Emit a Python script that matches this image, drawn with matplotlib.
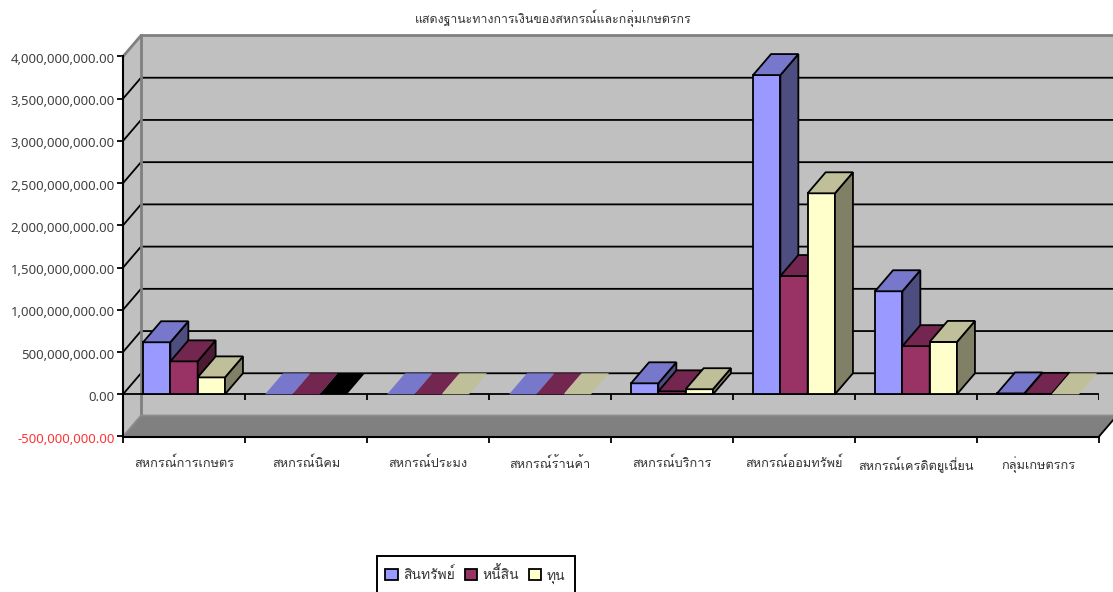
import numpy as np
import matplotlib
matplotlib.use('Agg')
import matplotlib.pyplot as plt
from matplotlib.patches import Patch, Polygon, Rectangle
from matplotlib.transforms import ScaledTranslation

plt.rcParams['font.family'] = ['Loma', 'DejaVu Sans']

title = 'แสดงฐานะทางการเงินของสหกรณ์และกลุ่มเกษตรกร'
categories = ['สหกรณ์การเกษตร', 'สหกรณ์นิคม', 'สหกรณ์ประมง', 'สหกรณ์ร้านค้า',
              'สหกรณ์บริการ', 'สหกรณ์ออมทรัพย์', 'สหกรณ์เครดิตยูเนี่ยน', 'กลุ่มเกษตรกร']
series_names = ['สินทรัพย์', 'หนี้สิน', 'ทุน']
assets = [616e6, 0, 0, 0, 130e6, 3780e6, 1220e6, 10e6]
liabilities = [390e6, 0, 0, 0, 35e6, 1400e6, 570e6, 5e6]
equity = [200e6, 0, 0, 0, 60e6, 2380e6, 620e6, 0]
y_ticks = [-5e8, 0, 5e8, 1e9, 1.5e9, 2e9, 2.5e9, 3e9, 3.5e9, 4e9]

front_colors = ['#9999FF', '#993366', '#FFFFCC']
top_colors = ['#7777CC', '#722650', '#BFBF99']
side_colors = ['#4D4D80', '#4D1A33', '#808066']

W, H = 1113, 592
fig = plt.figure(figsize=(W / 100, H / 100), dpi=100)
ax = fig.add_axes([123 / W, 1 - 436.5 / H, 976 / W, 380 / H])
ax.set_xlim(0, 8)
ax.set_ylim(-5e8, 4e9)

# depth of the fake 3d box, in data units
px_x = 8 / 976
px_y = 4.5e9 / 380
DX = 18 * px_x
DY = 21 * px_y
bar_w = 27.3 * px_x
ymin, ymax = ax.get_ylim()

# walls and floor
ax.add_patch(Polygon([(DX, ymin + DY), (8 + DX, ymin + DY), (8 + DX, ymax + DY), (DX, ymax + DY)],
                     fc='#C0C0C0', ec='none', clip_on=False, zorder=1))
ax.add_patch(Polygon([(0, ymin), (DX, ymin + DY), (DX, ymax + DY), (0, ymax)],
                     fc='#C0C0C0', ec='none', clip_on=False, zorder=1))
ax.add_patch(Polygon([(0, ymin), (8, ymin), (8 + DX, ymin + DY), (DX, ymin + DY)],
                     fc='#808080', ec='none', clip_on=False, zorder=1))

for v in y_ticks[1:-1]:
    ax.plot([0, DX, 8 + DX], [v, v + DY, v + DY], color='black', lw=1.3, clip_on=False, zorder=2)

# grey outline of the box
ax.plot([0, DX, 8 + DX], [ymax, ymax + DY, ymax + DY], color='#808080', lw=2, clip_on=False, zorder=2)
ax.plot([DX, DX], [ymin + DY, ymax + DY], color='#808080', lw=2, clip_on=False, zorder=2)
ax.plot([0, DX, 8 + DX], [ymin, ymin + DY, ymin + DY], color='#8C8C8C', lw=1.3, clip_on=False, zorder=2)
ax.plot([8, 8 + DX], [ymin, ymin + DY], color='black', lw=1.3, clip_on=False, zorder=2)

# zero line with its own ticks
ax.plot([0, 8], [0, 0], color='black', lw=1.3, zorder=3)
ax.vlines(range(1, 9), -6 * px_y, 0, color='black', lw=1.3, zorder=3)

gap = (1 - 3 * bar_w) / 2
z = 4
for i in range(len(categories)):
    for j, vals in enumerate([assets, liabilities, equity]):
        v = vals[i]
        x0 = i + gap + j * bar_w
        x1 = x0 + bar_w
        top = top_colors[j]
        if i == 1 and j == 2:
            top = 'black'
        ec = 'black' if v != 0 else 'none'
        if v != 0:
            ax.bar(x0, v, width=bar_w, align='edge', color=front_colors[j], edgecolor='black', lw=1.3, zorder=z)
            ax.add_patch(Polygon([(x1, 0), (x1 + DX, DY), (x1 + DX, v + DY), (x1, v)],
                                 fc=side_colors[j], ec=ec, lw=1.3, zorder=z, clip_on=False))
        ax.add_patch(Polygon([(x0, v), (x1, v), (x1 + DX, v + DY), (x0 + DX, v + DY)],
                             fc=top, ec=ec, lw=1.3, zorder=z, clip_on=False))
        z += 1

for s in ['top', 'right']:
    ax.spines[s].set_visible(False)
for s in ['left', 'bottom']:
    ax.spines[s].set_linewidth(1.5)
    ax.spines[s].set_zorder(60)

ax.set_yticks(y_ticks)
ax.set_yticklabels(['{:,.2f}'.format(v) for v in y_ticks], family='Noto Sans')
ax.set_xticks(range(9))
ax.set_xticklabels([])
ax.set_xticks(np.arange(8) + 0.5, categories, minor=True)
ax.tick_params(axis='x', which='major', length=4.5, width=1.3, color='black')
ax.tick_params(axis='x', which='minor', length=0, pad=14.5, labelsize=9.2, labelcolor='#333333')
ax.tick_params(axis='y', length=4.5, width=1.3, pad=1.5, labelsize=9.45, labelcolor='#404040')
ax.get_yticklabels()[0].set_color('#FF3333')
# labels sit a little under their ticks
down = ScaledTranslation(0, -1.5 / 100, fig.dpi_scale_trans)
for lab in ax.get_yticklabels():
    lab.set_transform(lab.get_transform() + down)

fig.text(553 / W, 1 - 18.5 / H, title, ha='center', va='center', fontsize=8.9, color='#333333')

# the legend box runs past the bottom of the picture
fig.add_artist(Rectangle((377 / W, -10 / H), 198 / W, (H - 556 + 10) / H, transform=fig.transFigure,
                         fc='white', ec='black', lw=1.4))
handles = [Patch(fc=c, ec='black', lw=1.3) for c in front_colors]
leg = fig.legend(handles, series_names, loc='center left', bbox_to_anchor=(385 / W, 1 - 575 / H),
                 bbox_transform=fig.transFigure, ncol=3, fontsize=10, frameon=False, borderaxespad=0,
                 borderpad=0, handlelength=0.9, handleheight=0.9, handletextpad=0.4,
                 columnspacing=0.7, labelcolor='#333333')
leg.set_zorder(10)

fig.savefig('out.png', dpi=100)
